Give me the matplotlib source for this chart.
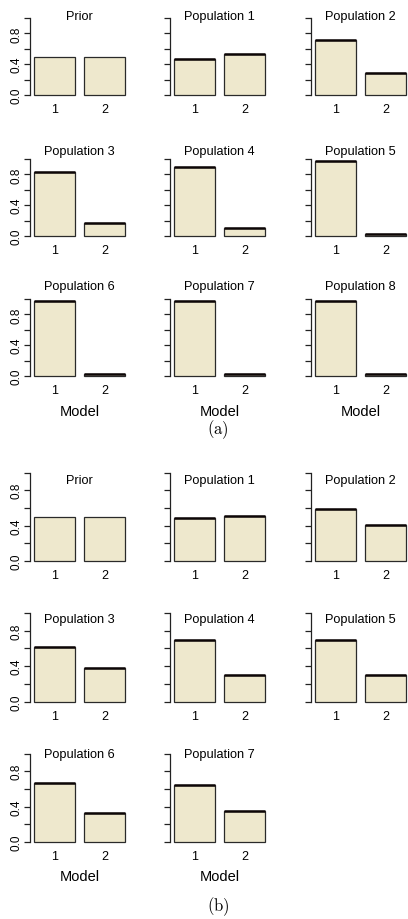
import matplotlib
matplotlib.use("Agg")
import matplotlib.pyplot as plt

plt.rcParams['font.family'] = ['Liberation Sans', 'DejaVu Sans']
plt.rcParams['mathtext.fontset'] = 'cm'

# ---- data ----
models = ['1', '2']
titles_a = ['Prior', 'Population 1', 'Population 2', 'Population 3', 'Population 4',
            'Population 5', 'Population 6', 'Population 7', 'Population 8']
model1_a = [0.50, 0.47, 0.71, 0.83, 0.90, 0.97, 0.98, 0.98, 0.98]
model2_a = [0.50, 0.53, 0.29, 0.17, 0.10, 0.03, 0.02, 0.02, 0.02]

titles_b = ['Prior', 'Population 1', 'Population 2', 'Population 3', 'Population 4',
            'Population 5', 'Population 6', 'Population 7']
model1_b = [0.50, 0.49, 0.59, 0.62, 0.70, 0.70, 0.67, 0.65]
model2_b = [0.50, 0.51, 0.41, 0.38, 0.30, 0.30, 0.33, 0.35]

yticks = [0.0, 0.2, 0.4, 0.6, 0.8, 1.0]
ylabels = ['0.0', '', '0.4', '', '0.8', '']

# ---- layout (pixels) ----
W, H = 408, 920
fig = plt.figure(figsize=(W / 100, H / 100), dpi=100)

col_left = [30, 170, 311]
unit_x = 41.7
x_lo, x_hi = 0.112, 2.488
ax_w = (x_hi - x_lo) * unit_x

FILL = '#EEE8CD'
EDGE = '#2a2a2a'


def panel(titles, v1, v2, zero_ys, unit, title_off, model_y, label_y, label):
    n = len(titles)
    last_row = (n - 1) // 3
    for i, (t, a, b) in enumerate(zip(titles, v1, v2)):
        r, c = divmod(i, 3)
        z = zero_ys[r]
        top_px = z - 1.04 * unit
        bot_px = z + 0.04 * unit
        ax = fig.add_axes([col_left[c] / W, 1 - bot_px / H, ax_w / W, (bot_px - top_px) / H])
        ax.set_xlim(x_lo, x_hi)
        ax.set_ylim(-0.04, 1.04)
        xs = [0.7, 1.9]
        vals = [a, b]
        ax.bar(xs, vals, width=1.0, color=FILL, edgecolor=EDGE, linewidth=0.9)
        if t != 'Prior':
            for x, v in zip(xs, vals):
                ax.plot([x - 0.5, x + 0.5], [v, v], color='#0d0606', lw=1.8,
                        solid_capstyle='butt')
        for s in ['top', 'right', 'bottom']:
            ax.spines[s].set_visible(False)
        ax.spines['left'].set_bounds(0, 1)
        ax.spines['left'].set_color('#222222')
        ax.spines['left'].set_linewidth(0.9)
        ax.set_yticks(yticks)
        if c == 0:
            ax.set_yticklabels(ylabels, rotation=90, va='center', fontsize=8.5)
        else:
            ax.set_yticklabels([])
        ax.tick_params(axis='y', length=4, width=0.9, pad=1.5, color='#222222')
        ax.set_xticks(xs)
        ax.set_xticklabels(models, fontsize=9)
        ax.tick_params(axis='x', length=0, pad=3.5)
        ax.patch.set_alpha(0)
        ax.text(1.3, title_off[r], t, ha='center', va='center', fontsize=9.2)
        if r == last_row:
            fig.text((col_left[c] + ax_w / 2) / W, 1 - model_y / H, 'Model',
                     ha='center', va='center', fontsize=10.5)
    fig.text(218 / W, 1 - label_y / H, label, ha='center', va='center', fontsize=12)


panel(titles_a, model1_a, model2_a, [96, 237, 377], 77,
      [1.03, 1.10, 1.17], 412, 430, r'$\mathrm{(a)}$')
panel(titles_b, model1_b, model2_b, [562, 702.5, 843], 88.4,
      [0.92, 0.93, 1.0], 877, 907, r'$\mathrm{(b)}$')

fig.savefig('out.png', dpi=100)
